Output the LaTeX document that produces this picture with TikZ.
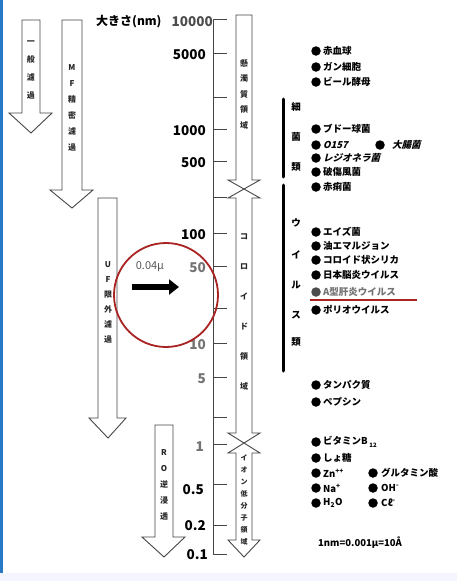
\documentclass[tikz,border=0pt]{standalone}
\usepackage{fontspec}
\setmainfont{Noto Sans CJK JP}
\newfontfamily\jpit{Noto Sans CJK JP}[FakeSlant=0.25]
\usetikzlibrary{arrows.meta}
\definecolor{circred}{RGB}{170,35,35}
\definecolor{linegray}{RGB}{70,70,70}
\definecolor{scanblue}{RGB}{40,120,200}
\tikzset{
 arrowshape/.style={draw=linegray, line width=0.9pt, fill=white, line join=miter},
 vtext/.style={align=center, inner sep=0pt, text=black!85},
 tickline/.style={draw=linegray, line width=1pt},
 ticklab/.style={anchor=east, inner sep=0pt, font=\bfseries\fontsize{13.5}{14}\selectfont},
 bul/.style={circle, fill=black, minimum size=9.5pt, inner sep=0pt},
 itm/.style={anchor=west, inner sep=0pt, font=\bfseries\fontsize{9.5}{10}\selectfont},
 gbar/.style={line width=3pt, line cap=round},
 klab/.style={inner sep=0pt, font=\bfseries\fontsize{9.5}{10}\selectfont},
}
\begin{document}
\begin{tikzpicture}[x=1pt,y=-1pt]
\useasboundingbox (0,0) rectangle (457,581);
\fill[white] (0,0) rectangle (457,581);
\fill[scanblue] (0,0) rectangle (2.5,581);
\fill[blue!4] (0,573) rectangle (457,581);

% filtration arrows
\draw[arrowshape] (22,20) -- (22,113) -- (9,113) -- (31,133) -- (52,113) -- (40,113) -- (40,20) -- cycle;
\node[vtext, font=\bfseries\fontsize{8}{18}\selectfont] (ippan) at (31,70) {一\\般\\濾\\過};

\draw[arrowshape] (62,20) -- (62,190) -- (50,190) -- (72,208) -- (93,190) -- (82,190) -- (82,20) -- cycle;
\node[vtext, font=\bfseries\fontsize{8}{16}\selectfont] (mf) at (72,108) {M\\F\\精\\密\\濾\\過};

\draw[arrowshape] (98,198) -- (98,418) -- (89,418) -- (108,438) -- (126,418) -- (117,418) -- (117,198) -- cycle;
\node[vtext, font=\bfseries\fontsize{8}{15}\selectfont] (uf) at (108,302) {U\\F\\限\\外\\濾\\過};

\draw[arrowshape] (155,425) -- (155,537) -- (142,537) -- (164,557) -- (185,537) -- (173,537) -- (173,425) -- cycle;
\node[vtext, font=\bfseries\fontsize{8}{16}\selectfont] (ro) at (164,485) {R\\O\\逆\\浸\\透};

% scale
\draw[tickline] (213,19) -- (213,554);
\foreach \y in {19,53,97,129,161,197,233,266,308,343,377,417,444,484,525,554}
  \draw[tickline] (213,\y) -- (227,\y);
\node[anchor=west, inner sep=0pt, font=\bfseries\fontsize{12}{12}\selectfont] (ookisa) at (96,22) {大きさ(nm)};
\node[ticklab, text=black!70] (l10000) at (213,22) {10000};
\node[ticklab] (l5000) at (206,55) {5000};
\node[ticklab] (l1000) at (206,131) {1000};
\node[ticklab] (l500) at (206,163) {500};
\node[ticklab] (l100) at (206,235) {100};
\node[ticklab, text=black!55] (l50) at (206,268) {50};
\node[ticklab, text=black!55] (l10) at (206,345) {10};
\node[ticklab, text=black!55] (l5) at (206,379) {5};
\node[ticklab, text=black!55] (l1) at (204,447) {1};
\node[ticklab] (l05) at (204,490) {0.5};
\node[ticklab] (l02) at (206,526) {0.2};
\node[ticklab] (l01) at (208,555) {0.1};

% domain arrows
\draw[arrowshape] (236,15) -- (236,180) -- (228,180) -- (244,189) -- (260,180) -- (252,180) -- (252,15) -- cycle;
\draw[arrowshape] (244,189) -- (228,198) -- (236,198) -- (236,433) -- (228,433) -- (244,443) -- (260,433) -- (252,433) -- (252,198) -- (260,198) -- cycle;
\draw[arrowshape] (244,443) -- (228,453) -- (236,453) -- (236,540) -- (228,540) -- (244,557) -- (260,540) -- (252,540) -- (252,453) -- (260,453) -- cycle;
\node[vtext, font=\bfseries\fontsize{8}{15.5}\selectfont] (kendaku) at (244,94) {懸\\濁\\質\\領\\域};
\node[vtext, font=\bfseries\fontsize{8}{30}\selectfont] (colloid) at (244,312) {コ\\ロ\\イ\\ド\\領\\域};
\node[vtext, font=\bfseries\fontsize{7}{12}\selectfont] (ion) at (244,500) {イ\\オ\\ン\\低\\分\\子\\領\\域};

% red circle and arrow
\node[draw=circred, line width=1.8pt, circle, minimum size=104pt, inner sep=0pt] (circ) at (166,295) {};
\coordinate (ars) at (132,287);
\coordinate (are) at (179,287);
\draw[line width=6pt, -{Triangle[length=10pt,width=15pt]}] (ars) -- (are);
\node[inner sep=0pt, text=black!65, font=\fontsize{11}{11}\selectfont] (d004) at (150,267) {0.04μ};

% bracket bars
\draw[gbar] (283,99) -- (283,177);
\draw[gbar] (283,185) -- (283,371);
\foreach \c/\y [count=\i] in {細/107,菌/137,類/167}
  \node[klab] (sk\i) at (296,\y) {\c};
\foreach \c/\y [count=\i] in {ウ/223,イ/255,ル/285,ス/315,類/342}
  \node[klab] (vk\i) at (296,\y) {\c};

% items
\foreach \y/\t [count=\i] in {51/赤血球,67/ガン細胞,82/ビール酵母,129/ブドー球菌,172/破傷風菌,187/赤痢菌,232/エイズ菌,246/油エマルジョン,260/コロイド状シリカ,275/日本脳炎ウイルス,310/ポリオウイルス,385/タンパク質,402/ペプシン,458/しょ糖}
{
  \node[bul] (b\i) at (316,\y) {};
  \node[itm] (t\i) at (323,\y) {\t};
}
\node[bul] (bo) at (316,145) {};
\node[itm] (to) at (323,145) {\jpit\bfseries O157};
\node[bul] (bd) at (380,145) {};
\node[itm] (td) at (392,145) {\jpit\bfseries 大腸菌};
\node[bul] (bl) at (316,158) {};
\node[itm] (tl) at (323,158) {\jpit\bfseries レジオネラ菌};
\node[bul, fill=black!70] (ba) at (316,292) {};
\node[itm, text=black!55] (ta) at (323,292) {A型肝炎ウイルス};
\coordinate (ul1) at (310,300);
\coordinate (ul2) at (417,300);
\draw[circred, line width=1.3pt] (ul1) -- (ul2);
\node[bul] (bb) at (316,442) {};
\node[itm] (tb) at (323,442) {ビタミンB\,\raisebox{-2.5pt}{\fontsize{6}{6}\selectfont 12}};
\node[bul] (bz) at (316,473) {};
\node[itm] (tz) at (323,473) {Zn\textsuperscript{++}};
\node[bul] (bg) at (373,473) {};
\node[itm] (tg) at (381,473) {グルタミン酸};
\node[bul] (bn) at (316,488) {};
\node[itm] (tn) at (323,488) {Na\textsuperscript{+}};
\node[bul] (boh) at (373,488) {};
\node[itm] (toh) at (381,488) {OH\textsuperscript{-}};
\node[bul] (bh) at (316,503) {};
\node[itm] (th) at (323,503) {H\textsubscript{2}O};
\node[bul] (bc) at (373,503) {};
\node[itm] (tc) at (381,503) {Cℓ\textsuperscript{-}};

\node[anchor=west, inner sep=0pt, font=\bfseries\fontsize{9.5}{10}\selectfont] (unit) at (318,543) {1nm=0.001μ=10Å};
\end{tikzpicture}
\end{document}
